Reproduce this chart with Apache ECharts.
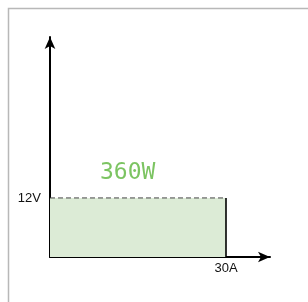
<!DOCTYPE html>
<html>
<head>
<meta charset="utf-8">
<script src="https://cdn.jsdelivr.net/npm/echarts@6/dist/echarts.min.js"></script>
<style>
  html, body { margin: 0; padding: 0; background: #fff; }
  #main { width: 308px; height: 302px; }
</style>
</head>
<body>
<div id="main"></div>
<script>
  var current = [0, 30];      // A
  var voltage = [12, 12];     // V
  var powerLabel = '360W';
  var xLabel = '30A';
  var yLabel = '12V';

  var myChart = echarts.init(document.getElementById('main'));

  var area = current.map(function(c, i) { return [c, voltage[i]]; });
  var edge = [[current[1], 0], [current[1], voltage[1]]];

  var option = {
    animation: false,
    title: {
      text: powerLabel,
      left: 95,
      top: 157,
      textStyle: { color: '#7cc462', fontSize: 23, fontWeight: 'normal', fontFamily: 'DejaVu Sans Mono' }
    },
    graphic: [{
      type: 'rect',
      shape: { x: 8.5, y: 8.5, width: 400, height: 400 },
      style: { fill: 'none', stroke: '#b8b8b8', lineWidth: 1.5 }
    }],
    grid: { left: 50, right: 38, top: 37, bottom: 45 },
    xAxis: {
      type: 'value',
      min: 0,
      max: 37.5,
      interval: 30,
      splitLine: { show: false },
      axisTick: { show: false },
      axisLine: { lineStyle: { color: '#000', width: 2 }, symbol: ['none', 'arrow'], symbolSize: [8, 12] },
      axisLabel: {
        color: '#111', fontSize: 13, fontFamily: 'Liberation Sans', margin: 5,
        formatter: function(v) { return v === 30 ? xLabel : ''; }
      }
    },
    yAxis: {
      type: 'value',
      min: 0,
      max: 44.7,
      interval: 12,
      splitLine: { show: false },
      axisTick: { show: false },
      axisLine: { lineStyle: { color: '#000', width: 2 }, symbol: ['none', 'arrow'], symbolSize: [8, 12] },
      axisLabel: {
        color: '#111', fontSize: 13, fontFamily: 'Liberation Sans', margin: 9,
        formatter: function(v) { return v === 12 ? yLabel : ''; }
      }
    },
    series: [{
      type: 'line',
      data: area,
      symbol: 'none',
      lineStyle: { color: '#444', width: 1, type: [5, 3] },
      areaStyle: { color: '#dcebd6', opacity: 1 }
    }, {
      type: 'line',
      data: edge,
      symbol: 'none',
      lineStyle: { color: '#000', width: 1.6 }
    }]
  };

  myChart.setOption(option);
</script>
</body>
</html>
